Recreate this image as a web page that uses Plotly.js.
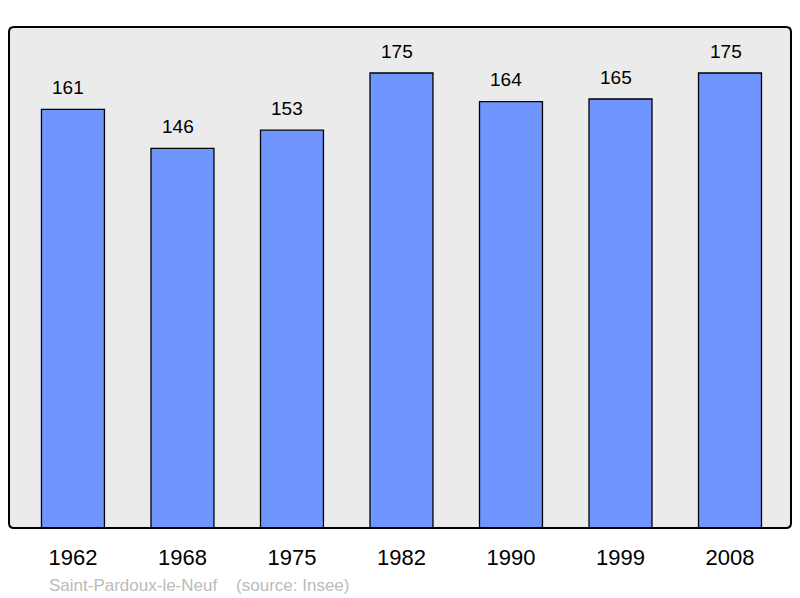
<!DOCTYPE html>
<html>
<head>
<meta charset="utf-8">
<script src="https://cdn.plot.ly/plotly-3.0.1.min.js"></script>
<style>html,body{margin:0;padding:0;background:#fff;}#chart{width:800px;height:598px;}</style>
</head>
<body>
<div id="chart"></div>
<script>
const years = ["1962", "1968", "1975", "1982", "1990", "1999", "2008"];
const population = [161, 146, 153, 175, 164, 165, 175];
const commune = "Saint-Pardoux-le-Neuf";
const source = "(source: Insee)";

const trace = {
  type: "bar",
  x: years,
  y: population,
  width: 0.575,
  marker: {color: "#7095ff", line: {color: "#000", width: 1.3}},
  hoverinfo: "none"
};

const annotations = years.map((yr, i) => ({
  x: i, y: population[i], xref: "x", yref: "y",
  text: String(population[i]), showarrow: false,
  yanchor: "middle", yshift: 22, xshift: -4.5,
  font: {family: "Liberation Sans, Arial, sans-serif", size: 19, color: "#000"}
}));
annotations.push({
  xref: "paper", yref: "paper", x: 0.048, y: -0.114, xanchor: "left", yanchor: "middle",
  text: commune + "&nbsp;&nbsp;&nbsp;&nbsp;" + source, showarrow: false,
  font: {family: "Liberation Sans, Arial, sans-serif", size: 17, color: "#bbbbbb"}
});

// rounded border
const rx = 5 / 782, ry = 5 / 501;
const path = `M ${rx} 0 L ${1 - rx} 0 Q 1 0 1 ${ry} L 1 ${1 - ry} Q 1 1 ${1 - rx} 1 L ${rx} 1 Q 0 1 0 ${1 - ry} L 0 ${ry} Q 0 0 ${rx} 0 Z`;

const layout = {
  width: 800, height: 598,
  margin: {l: 9, r: 9, t: 27, b: 70, pad: 0},
  paper_bgcolor: "#ffffff",
  plot_bgcolor: "#ebebeb",
  showlegend: false,
  xaxis: {
    type: "category", range: [-0.584, 6.557],
    showgrid: false, zeroline: false, showline: false, ticks: "",
    ticklabelstandoff: 14,
    tickfont: {family: "Liberation Sans, Arial, sans-serif", size: 22, color: "#000"},
    fixedrange: true
  },
  yaxis: {
    range: [0, 192.7], visible: false, showgrid: false, zeroline: false, fixedrange: true
  },
  shapes: [{
    type: "path", xref: "paper", yref: "paper", path: path,
    line: {color: "#000", width: 2}, layer: "above"
  }],
  annotations: annotations
};

Plotly.newPlot("chart", [trace], layout, {staticPlot: true, displayModeBar: false});
</script>
</body>
</html>
